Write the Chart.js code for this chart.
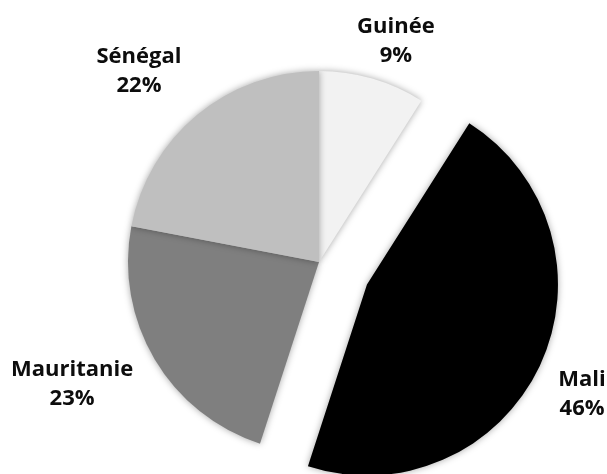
<!DOCTYPE html>
<html lang="fr">
<head>
  <meta charset="UTF-8">
  <title>Répartition</title>
  <script src="https://cdn.jsdelivr.net/npm/chart.js"></script>
  <style>
    html, body { margin: 0; padding: 0; background: #fff; }
    .wrap { position: relative; width: 607px; height: 474px; }
  </style>
</head>
<body>
  <div class="wrap"><canvas id="pie"></canvas></div>

  <script>
    // données (en %)
    const countries = ['Guinée', 'Mali', 'Mauritanie', 'Sénégal'];
    const shares = [9, 46, 23, 22];

    // déplacement d'une part le long de sa bissectrice (sans agrandir l'arc)
    function explodeShift(arc, dist) {
      const mid = (arc.startAngle + arc.endAngle) / 2;
      return { dx: Math.cos(mid) * dist, dy: Math.sin(mid) * dist };
    }

    const explodePlugin = {
      id: 'explode',
      afterUpdate(chart, args, opts) {
        const meta = chart.getDatasetMeta(0);
        meta.data.forEach((arc, i) => {
          if (arc._exploded) return;
          const orig = arc.draw;
          arc.draw = function (ctx, area) {
            const s = explodeShift(this, opts.dist[i] || 0);
            ctx.save();
            ctx.translate(s.dx, s.dy);
            orig.call(this, ctx, area);
            ctx.restore();
          };
          arc._exploded = true;
        });
      }
    };

    // étiquettes à l'extérieur : [distance au-delà du rayon, décalage d'angle en degrés]
    const labelPlugin = {
      id: 'outsideLabels',
      afterDatasetsDraw(chart, args, opts) {
        const ctx = chart.ctx;
        const meta = chart.getDatasetMeta(0);
        const dist = chart.options.plugins.explode.dist;
        ctx.save();
        ctx.font = 'bold 22px "Open Sans", sans-serif';
        ctx.fillStyle = '#0d0d0d';
        ctx.textAlign = 'center';
        ctx.textBaseline = 'alphabetic';
        meta.data.forEach((arc, i) => {
          const mid = (arc.startAngle + arc.endAngle) / 2;
          const s = explodeShift(arc, dist[i] || 0);
          const place = opts.place[i];
          const a = mid + place[1] * Math.PI / 180;
          const d = arc.outerRadius + place[0];
          const lx = arc.x + s.dx + Math.cos(a) * d;
          const ly = arc.y + s.dy + Math.sin(a) * d;
          ctx.fillText(chart.data.labels[i], lx, ly - 7);
          ctx.fillText(Math.round(shares[i]) + '%', lx, ly + 22);
        });
        ctx.restore();
      }
    };

    const shadowPlugin = {
      id: 'softShadow',
      beforeDatasetsDraw(chart) {
        const ctx = chart.ctx;
        ctx.save();
        ctx.shadowColor = 'rgba(0,0,0,0.35)';
        ctx.shadowBlur = 7;
      },
      afterDatasetsDraw(chart) {
        chart.ctx.restore();
      }
    };

    new Chart(document.getElementById('pie'), {
      type: 'pie',
      data: {
        labels: countries,
        datasets: [{
          data: shares,
          backgroundColor: ['#f2f2f2', '#000000', '#7f7f7f', '#bfbfbf'],
          borderWidth: 0,
          radius: 191,
          clip: false
        }]
      },
      options: {
        responsive: true,
        maintainAspectRatio: false,
        animation: false,
        layout: { padding: { left: 31, top: 50, right: 0, bottom: 0 } },
        plugins: {
          legend: { display: false },
          tooltip: { enabled: false },
          explode: { dist: [0, 53, 0, 0] },
          outsideLabels: { place: [[44, 2.9], [50, 1.6], [84, 4.5], [72, -3.6]] }
        }
      },
      plugins: [explodePlugin, shadowPlugin, labelPlugin]
    });
  </script>
</body>
</html>
